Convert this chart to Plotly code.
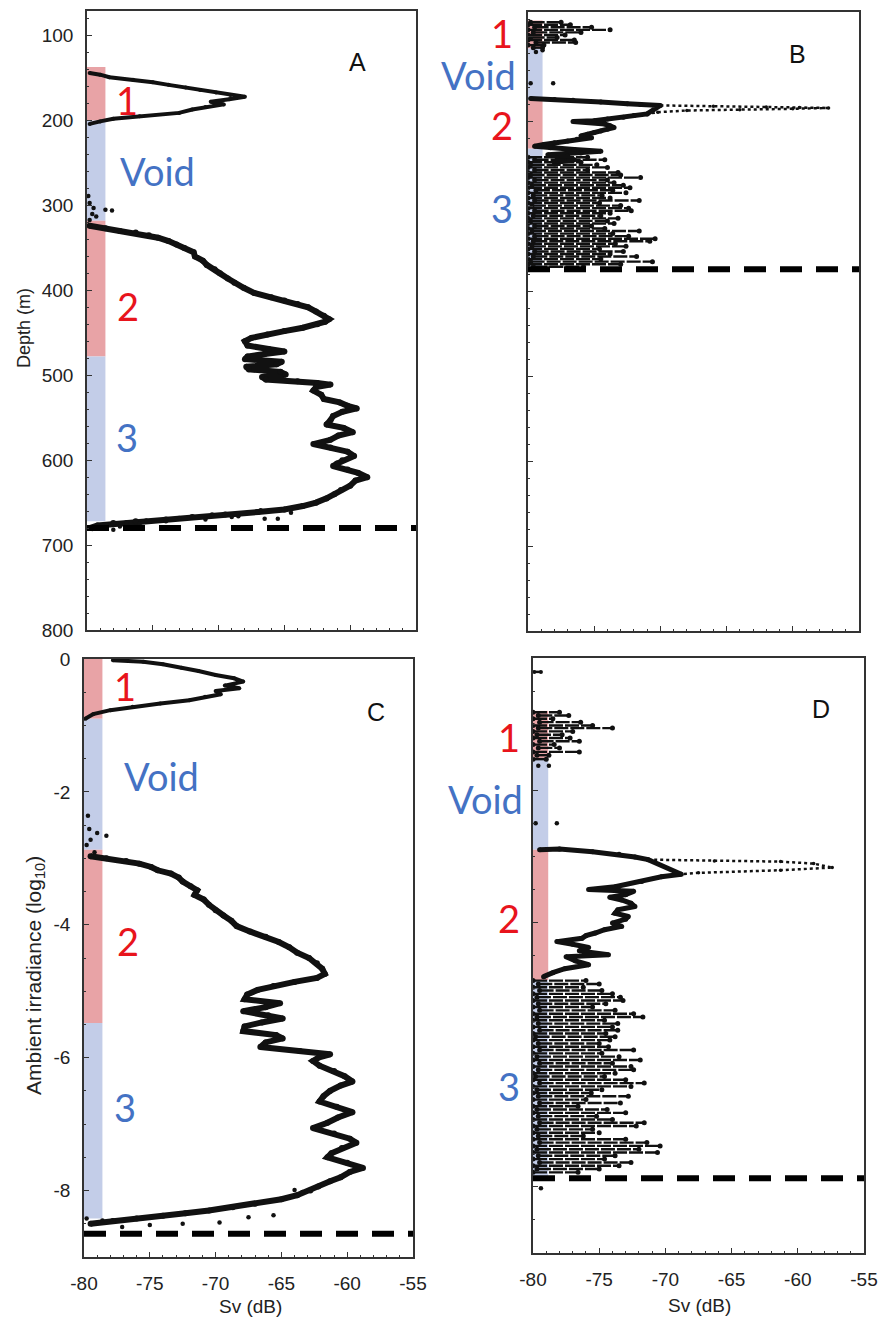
import plotly.graph_objects as go

W, H = 881, 1320

# ---------------- tick labels ----------------
SV_TICKS = [-80, -75, -70, -65, -60, -55]
SV_TICK_TEXT = ["-80", "-75", "-70", "-65", "-60", "-55"]
DEPTH_TICKS = [100, 200, 300, 400, 500, 600, 700, 800]
DEPTH_TICK_TEXT = ["100", "200", "300", "400", "500", "600", "700", "800"]
IRR_TICKS = [0, -2, -4, -6, -8]
IRR_TICK_TEXT = ["0", "-2", "-4", "-6", "-8"]

# ---------------- Panel A : Sv vs depth ----------------
A_L1_DEPTH = [144, 146, 149, 152, 155, 158, 161, 164, 167, 170, 172, 175, 178, 181, 184, 187, 191, 195, 198, 201, 204]
A_L1_SV = [-79.8, -79.0, -78.3, -76.5, -75.0, -73.8, -72.5, -71.4, -70.2, -69.1, -68.0, -69.2, -70.6, -69.6, -71.0,
           -72.0, -73.0, -76.0, -78.0, -79.0, -79.8]
A_VOID_DEPTH = [289, 297, 303, 305, 306, 310, 313, 317]
A_VOID_SV = [-79.9, -79.8, -79.5, -78.6, -78.1, -79.6, -79.3, -79.8]
A_L2_DEPTH = [324, 327, 330, 332, 335, 338, 342, 346, 350, 355, 360, 365, 370, 375, 380, 386, 391, 397, 403, 408,
              412, 416, 420, 425, 430, 434, 437, 440, 444, 448, 452, 456, 460, 465, 469, 472, 475, 478, 481, 484,
              487, 490, 493, 496, 499, 502, 505, 507, 509, 511, 514, 518, 523, 528, 532, 536, 539, 543, 548, 553,
              558, 562, 567, 571, 576, 581, 585, 590, 595, 600, 604, 607, 611, 615, 620, 624, 630, 635, 640, 645,
              650, 654, 658, 661, 664, 667, 670, 672, 674, 677, 680]
A_L2_SV = [-79.8, -78.6, -77.5, -76.3, -75.3, -74.6, -73.8, -73.2, -72.6, -71.9, -71.8, -71.2, -70.9, -70.3, -69.9,
           -69.3, -68.8, -68.1, -67.3, -66.0, -65.0, -64.0, -63.2, -62.6, -62.0, -61.6, -61.9, -62.5, -63.6, -65.0,
           -66.3, -67.5, -68.0, -67.8, -66.2, -65.0, -66.5, -67.8, -68.0, -65.2, -65.6, -67.9, -67.7, -65.3, -64.9,
           -66.7, -66.4, -64.0, -62.5, -61.5, -62.6, -62.8, -62.2, -62.0, -60.8, -60.2, -59.5, -60.6, -61.3, -61.5,
           -61.8, -60.5, -59.8, -60.9, -61.5, -62.8, -61.5, -60.2, -59.7, -60.6, -61.0, -61.3, -60.2, -59.4, -58.7,
           -59.6, -60.0, -60.7, -61.2, -61.8, -62.6, -63.6, -65.0, -67.0, -69.5, -72.0, -74.0, -76.3, -78.0, -79.2,
           -79.8]
A_BOT_DEPTH = [659, 662, 664, 666, 667, 668, 669, 669, 670, 671, 672, 673, 675, 676, 678, 679, 681, 682]
A_BOT_SV = [-66.8, -64.5, -70.5, -68.5, -69.0, -73.0, -66.5, -65.5, -71.0, -75.5, -74.0, -77.0, -76.0, -78.5, -77.5,
            -79.0, -79.6, -78.0]
A_BOTTOM = 680
A_ZONE_TOP = [137, 200, 318, 478]
A_ZONE_BOT = [200, 318, 478, 672]

# ---------------- Panel B : Sv vs depth ----------------
B_S1_DEPTH = [83, 86, 89, 92, 95, 98, 101, 104, 107, 110, 113]
B_S1_LO = [-79.8, -80.0, -79.5, -80.0, -79.6, -80.0, -79.8, -80.0, -79.4, -80.0, -79.6]
B_S1_HI = [-77.5, -76.8, -75.2, -73.8, -76.0, -77.2, -77.8, -76.5, -76.4, -78.8, -78.9]
B_VOID_DEPTH = [116, 118, 155, 155]
B_VOID_SV = [-78.9, -79.4, -79.8, -78.1]
B_L2_DEPTH = [173, 174, 175, 177, 179, 180, 181, 191, 193, 195, 197, 199, 200, 201, 203, 205, 207, 209, 211,
              213, 215, 217, 219, 221, 223, 225, 227, 229, 231, 233, 235, 237, 239, 241, 243, 245, 247, 250]
B_L2_SV = [-79.8, -78.0, -76.6, -74.5, -72.5, -71.5, -70.0, -71.0, -72.0, -72.8, -74.0, -75.0, -76.6, -75.5,
           -74.2, -73.8, -73.5, -74.0, -74.5, -75.0, -75.5, -76.0, -75.2, -76.3, -77.0, -78.0, -78.8, -79.5,
           -78.3, -76.5, -74.5, -76.0, -78.5, -77.0, -77.8, -76.5, -77.5, -78.0]
B_PEAK_DEPTH = [181, 182, 183, 183.5, 184, 185, 186, 187, 189, 191]
B_PEAK_SV = [-70.0, -66.0, -62.0, -59.5, -57.3, -60.0, -64.0, -68.0, -70.2, -71.0]
B_S3_DEPTH = [242, 245, 248, 251, 254, 257, 260, 263, 266, 269, 272, 275, 278, 281, 284, 287, 290, 293, 296,
              299, 302, 305, 308, 311, 314, 317, 320, 323, 326, 329, 332, 335, 338, 341, 344, 347, 350, 353,
              356, 359, 362, 365, 368, 371]
B_S3_LO = [-80.0, -79.5, -80.0, -79.8, -80.0, -79.5, -80.0, -79.8, -80.0, -79.5, -80.0, -79.7, -80.0, -79.4,
           -80.0, -79.6, -80.0, -79.5, -80.0, -79.7, -80.0, -79.5, -80.0, -79.6, -80.0, -79.8, -80.0, -79.5,
           -80.0, -79.7, -80.0, -79.5, -80.0, -79.6, -80.0, -79.7, -80.0, -79.5, -80.0, -79.6, -80.0, -79.8,
           -80.0, -79.6]
B_S3_HI = [-75.5, -74.2, -76.0, -74.8, -74.0, -75.5, -73.2, -73.0, -71.5, -74.0, -73.5, -72.8, -72.3, -73.6,
           -72.6, -74.4, -73.8, -71.6, -74.6, -73.0, -72.4, -72.2, -73.8, -74.5, -73.2, -74.0, -73.5, -75.2,
           -74.2, -71.6, -73.6, -72.4, -70.4, -70.8, -73.4, -72.6, -74.6, -72.8, -73.8, -71.8, -74.5, -70.6,
           -73.0, -75.8]
B_BOTTOM = 374
B_ZONE_TOP = [81, 114, 175, 232]
B_ZONE_BOT = [114, 175, 232, 373]

# ---------------- Panel C : Sv vs log10 irradiance ----------------
C_L1_IRR = [-0.02, -0.04, -0.08, -0.13, -0.18, -0.24, -0.29, -0.34, -0.40, -0.44, -0.48, -0.53, -0.57, -0.62,
            -0.67, -0.72, -0.77, -0.83, -0.90]
C_L1_SV = [-77.8, -75.5, -74.0, -72.6, -71.3, -70.0, -68.6, -67.9, -69.3, -68.2, -70.0, -69.6, -70.8, -72.0,
           -74.2, -76.3, -78.0, -79.3, -79.9]
C_VOID_IRR = [-2.36, -2.56, -2.62, -2.66, -2.72, -2.80, -2.91]
C_VOID_SV = [-79.7, -79.6, -79.0, -78.3, -79.5, -79.8, -79.2]
C_L2_IRR = [-2.97, -3.00, -3.04, -3.08, -3.13, -3.18, -3.23, -3.29, -3.35, -3.42, -3.48, -3.55, -3.62, -3.70,
            -3.78, -3.86, -3.94, -4.02, -4.10, -4.18, -4.26, -4.34, -4.42, -4.50, -4.58, -4.66, -4.74, -4.80,
            -4.86, -4.92, -4.98, -5.05, -5.12, -5.18, -5.24, -5.30, -5.36, -5.41, -5.47, -5.53, -5.60, -5.66,
            -5.71, -5.77, -5.84, -5.90, -5.95, -6.00, -6.05, -6.12, -6.20, -6.28, -6.36, -6.42, -6.50, -6.58,
            -6.66, -6.74, -6.82, -6.90, -6.98, -7.06, -7.14, -7.22, -7.28, -7.36, -7.44, -7.50, -7.58, -7.66,
            -7.72, -7.80, -7.86, -7.94, -8.00, -8.07, -8.13, -8.20, -8.25, -8.30, -8.34, -8.38, -8.42, -8.46,
            -8.50]
C_L2_SV = [-79.5, -78.3, -76.8, -75.8, -74.9, -74.4, -73.4, -72.8, -72.5, -71.9, -71.4, -71.6, -70.9, -70.5,
           -70.0, -69.4, -68.8, -68.4, -67.4, -66.2, -65.2, -64.4, -63.8, -62.9, -62.3, -61.9, -61.7, -62.3,
           -64.0, -65.6, -66.8, -67.6, -67.8, -65.1, -66.2, -67.9, -66.0, -64.9, -66.5, -67.8, -67.9, -65.4,
           -64.9, -66.2, -66.6, -63.6, -61.3, -62.2, -62.6, -62.1, -61.0, -60.2, -59.6, -60.5, -61.3, -61.8,
           -62.1, -60.8, -59.6, -60.7, -61.5, -62.6, -61.0, -59.8, -59.3, -60.4, -61.2, -61.5, -60.0, -58.8,
           -59.8, -60.5, -61.3, -62.2, -62.8, -63.8, -65.0, -67.0, -68.7, -70.5, -72.3, -74.0, -76.0, -77.8,
           -79.5]
C_BOT_IRR = [-7.99, -8.02, -8.37, -8.40, -8.48, -8.50, -8.52, -8.55, -8.42, -8.45]
C_BOT_SV = [-64.0, -63.4, -65.6, -67.5, -69.7, -72.5, -75.0, -77.1, -79.8, -78.6]
C_BOTTOM = -8.65
C_ZONE_TOP = [0.0, -0.9, -2.87, -5.48]
C_ZONE_BOT = [-0.9, -2.87, -5.48, -8.42]

# ---------------- Panel D : Sv vs log10 irradiance ----------------
D_TOP_IRR = [-0.21, -0.21]
D_TOP_SV = [-79.9, -79.4]
D_S1_IRR = [-0.82, -0.87, -0.92, -0.97, -1.02, -1.06, -1.11, -1.16, -1.21, -1.26, -1.31, -1.36, -1.42, -1.47,
            -1.53]
D_S1_LO = [-80.0, -79.6, -80.0, -79.5, -80.0, -79.6, -80.0, -79.7, -80.0, -79.5, -80.0, -79.6, -80.0, -79.7,
           -80.0]
D_S1_HI = [-78.0, -77.3, -78.5, -76.4, -75.5, -74.0, -77.0, -77.8, -77.2, -76.5, -78.4, -78.0, -76.5, -78.8,
           -79.0]
D_VOID_IRR = [-1.63, -1.63, -2.50, -2.50]
D_VOID_SV = [-79.6, -78.8, -79.8, -78.2]
D_L2_IRR = [-2.90, -2.89, -2.93, -2.97, -3.01, -3.05, -3.27, -3.31, -3.38, -3.46, -3.50, -3.53, -3.58, -3.62,
            -3.66, -3.71, -3.76, -3.81, -3.86, -3.91, -3.95, -4.01, -4.06, -4.11, -4.16, -4.20, -4.24, -4.29,
            -4.33, -4.38, -4.43, -4.49, -4.52, -4.58, -4.64, -4.70, -4.76, -4.82]
D_L2_SV = [-79.5, -78.0, -75.5, -73.5, -72.3, -71.3, -68.8, -70.3, -71.8, -73.8, -75.8, -72.4, -73.0, -74.2,
           -73.3, -72.6, -72.3, -73.6, -73.8, -72.8, -73.0, -74.0, -73.3, -74.6, -75.3, -76.0, -76.3, -78.2,
           -77.0, -75.8, -76.5, -74.3, -77.5, -76.8, -75.8, -77.6, -78.5, -79.2]
D_PEAK_IRR = [-3.05, -3.07, -3.08, -3.11, -3.17, -3.21, -3.25, -3.27]
D_PEAK_SV = [-71.3, -66.3, -61.3, -58.8, -57.4, -61.3, -67.5, -68.8]
D_S3_IRR = [-4.88, -4.93, -4.98, -5.03, -5.08, -5.13, -5.18, -5.23, -5.28, -5.33, -5.38, -5.43, -5.48, -5.53,
            -5.58, -5.63, -5.68, -5.73, -5.78, -5.83, -5.88, -5.93, -5.98, -6.03, -6.08, -6.13, -6.18, -6.23,
            -6.28, -6.33, -6.38, -6.43, -6.48, -6.53, -6.58, -6.63, -6.68, -6.73, -6.78, -6.83, -6.88, -6.93,
            -6.98, -7.03, -7.08, -7.13, -7.18, -7.23, -7.28, -7.33, -7.38, -7.43, -7.48, -7.53, -7.58, -7.63,
            -7.68, -7.73, -7.78]
D_S3_LO = [-80.0, -79.6, -80.0, -79.5, -80.0, -79.7, -80.0, -79.6, -80.0, -79.5, -80.0, -79.7, -80.0, -79.6,
           -80.0, -79.5, -80.0, -79.8, -80.0, -79.6, -80.0, -79.5, -80.0, -79.7, -80.0, -79.5, -80.0, -79.6,
           -80.0, -79.8, -80.0, -79.5, -80.0, -79.7, -80.0, -79.6, -80.0, -79.5, -80.0, -79.7, -80.0, -79.6,
           -80.0, -79.5, -80.0, -79.7, -80.0, -79.6, -80.0, -79.5, -80.0, -79.7, -80.0, -79.6, -80.0, -79.5,
           -80.0, -79.7, -80.0]
D_S3_HI = [-76.0, -75.0, -76.2, -74.8, -74.0, -73.4, -73.2, -74.5, -75.5, -73.8, -72.4, -71.7, -74.6, -73.6,
           -74.0, -73.6, -74.5, -73.8, -74.2, -75.0, -74.3, -72.4, -74.8, -73.5, -71.9, -74.0, -72.6, -72.4,
           -73.8, -74.6, -73.0, -71.6, -72.6, -74.8, -75.6, -72.8, -76.0, -73.4, -76.6, -74.4, -73.0, -75.2,
           -74.0, -71.6, -72.2, -75.5, -75.0, -76.2, -73.0, -71.4, -70.4, -72.0, -70.6, -73.8, -74.6, -72.6,
           -73.5, -75.0, -76.6]
D_BOT_IRR = [-8.02]
D_BOT_SV = [-79.4]
D_BOTTOM = -7.87
D_ZONE_TOP = [-0.8, -1.54, -2.9, -4.87]
D_ZONE_BOT = [-1.54, -2.9, -4.87, -7.87]

ZONE_NAMES = ["1", "Void", "2", "3"]

# ---------------- styling ----------------
PINK = "#E8A3A6"
LBLUE = "#C3CDE8"
RED = "#E8141C"
BLUE = "#4472C4"
ZONE_FILL = [PINK, LBLUE, PINK, LBLUE]
ZONE_TEXT = [RED, BLUE, RED, BLUE]
INK = "#111111"
AX = "#333333"
TICKFONT = dict(family="Liberation Sans, Arial, sans-serif", size=19, color="#222222")


def px2x(px):
    return px / W


def px2y(py):
    return 1 - py / H


panels = {
    "A": dict(xd=(87, 416), yd=(11, 630), yr=[800, 71], bar=-78.6),
    "B": dict(xd=(528, 859), yd=(12, 631), yr=[800, 71], bar=-78.9),
    "C": dict(xd=(84, 413), yd=(659, 1257), yr=[-9, 0], bar=-78.6),
    "D": dict(xd=(533, 864), yd=(658, 1253), yr=[-9, 0], bar=-78.85),
}
axid = {"A": ("x", "y"), "B": ("x2", "y2"), "C": ("x3", "y3"), "D": ("x4", "y4")}

fig = go.Figure()


def path(key, ys, xs, width=4.5, msize=4, dash="solid", mode="lines+markers"):
    xa, ya = axid[key]
    fig.add_trace(go.Scatter(x=xs, y=ys, mode=mode, xaxis=xa, yaxis=ya,
                             line=dict(color=INK, width=width, dash=dash),
                             marker=dict(color=INK, size=msize), showlegend=False, hoverinfo="skip"))


def points(key, ys, xs, msize=4.5):
    xa, ya = axid[key]
    fig.add_trace(go.Scatter(x=xs, y=ys, mode="markers", xaxis=xa, yaxis=ya,
                             marker=dict(color=INK, size=msize), showlegend=False, hoverinfo="skip"))


def streaks(key, ds, los, his, width=2.4):
    xs, ys = [], []
    for d, lo, hi in zip(ds, los, his):
        xs += [lo, hi, None]
        ys += [d, d, None]
    xa, ya = axid[key]
    fig.add_trace(go.Scatter(x=xs, y=ys, mode="lines+markers", xaxis=xa, yaxis=ya,
                             line=dict(color=INK, width=width, dash="14px,2px"),
                             marker=dict(color=INK, size=5), showlegend=False, hoverinfo="skip"))


def bottom_line(key, level):
    xa, ya = axid[key]
    fig.add_trace(go.Scatter(x=[SV_TICKS[0], SV_TICKS[-1]], y=[level, level], mode="lines", xaxis=xa, yaxis=ya,
                             line=dict(color="#000000", width=6, dash="22px,14px"),
                             showlegend=False, hoverinfo="skip"))


def zones(key, tops, bots):
    xa, ya = axid[key]
    for t, b, c in zip(tops, bots, ZONE_FILL):
        fig.add_shape(type="rect", xref=xa, yref=ya, x0=SV_TICKS[0], x1=panels[key]["bar"], y0=t, y1=b,
                      fillcolor=c, line=dict(width=0), layer="below")


# zones
zones("A", A_ZONE_TOP, A_ZONE_BOT)
zones("B", B_ZONE_TOP, B_ZONE_BOT)
zones("C", C_ZONE_TOP, C_ZONE_BOT)
zones("D", D_ZONE_TOP, D_ZONE_BOT)

# Panel A
path("A", A_L1_DEPTH, A_L1_SV, width=4)
points("A", A_VOID_DEPTH, A_VOID_SV)
path("A", A_L2_DEPTH, A_L2_SV, width=6, msize=6)
points("A", A_BOT_DEPTH, A_BOT_SV)
bottom_line("A", A_BOTTOM)

# Panel B
streaks("B", B_S1_DEPTH, B_S1_LO, B_S1_HI)
points("B", B_VOID_DEPTH, B_VOID_SV)
path("B", B_L2_DEPTH, B_L2_SV, width=5, msize=5)
path("B", B_PEAK_DEPTH, B_PEAK_SV, width=2.5, msize=3.5, dash="dot")
streaks("B", B_S3_DEPTH, B_S3_LO, B_S3_HI)
bottom_line("B", B_BOTTOM)

# Panel C
path("C", C_L1_IRR, C_L1_SV, width=4)
points("C", C_VOID_IRR, C_VOID_SV)
path("C", C_L2_IRR, C_L2_SV, width=6, msize=6)
points("C", C_BOT_IRR, C_BOT_SV)
bottom_line("C", C_BOTTOM)

# Panel D
path("D", D_TOP_IRR, D_TOP_SV, width=2.5)
streaks("D", D_S1_IRR, D_S1_LO, D_S1_HI)
points("D", D_VOID_IRR, D_VOID_SV)
path("D", D_L2_IRR, D_L2_SV, width=5, msize=5)
path("D", D_PEAK_IRR, D_PEAK_SV, width=2.5, msize=3.5, dash="dot")
streaks("D", D_S3_IRR, D_S3_LO, D_S3_HI)
points("D", D_BOT_IRR, D_BOT_SV)
bottom_line("D", D_BOTTOM)

# axes
layout = dict(width=W, height=H, margin=dict(l=0, r=0, t=0, b=0, autoexpand=False), paper_bgcolor="white",
              plot_bgcolor="white", showlegend=False, template="none")

for i, key in enumerate(["A", "B", "C", "D"]):
    p = panels[key]
    sfx = "" if i == 0 else str(i + 1)
    show_x = key in ("C", "D")
    xaxis = dict(domain=[px2x(p["xd"][0]), px2x(p["xd"][1])], range=[-80, -55], automargin=False,
                 anchor="y" + sfx, showgrid=False, zeroline=False,
                 showline=True, linecolor=AX, linewidth=1.5, mirror=True,
                 ticks="inside", ticklen=5, tickwidth=1.2, tickcolor=AX,
                 tickmode="array", tickvals=SV_TICKS, ticktext=SV_TICK_TEXT,
                 showticklabels=show_x, tickfont=TICKFONT, ticklabelstandoff=8,
                 minor=dict(ticks="inside", ticklen=2.5, tickwidth=1, tickcolor=AX, dtick=1, tick0=-80))
    if key in ("A", "B"):
        tv, tt, md = DEPTH_TICKS, DEPTH_TICK_TEXT, 20
    else:
        tv, tt, md = IRR_TICKS, IRR_TICK_TEXT, 0.5
    yaxis = dict(domain=[px2y(p["yd"][1]), px2y(p["yd"][0])], range=p["yr"], automargin=False,
                 anchor="x" + sfx, showgrid=False, zeroline=False,
                 showline=True, linecolor=AX, linewidth=1.5, mirror=True,
                 ticks="inside", ticklen=5, tickwidth=1.2, tickcolor=AX,
                 tickmode="array", tickvals=tv, ticktext=tt,
                 showticklabels=key in ("A", "C"), tickfont=TICKFONT, ticklabelstandoff=8,
                 minor=dict(ticks="inside", ticklen=2.5, tickwidth=1, tickcolor=AX, dtick=md, tick0=0))
    layout["xaxis" + sfx] = xaxis
    layout["yaxis" + sfx] = yaxis

fig.update_layout(**layout)

ann = []


def text(x, y, s, size, color, family="Liberation Sans, Arial, sans-serif", angle=0):
    ann.append(dict(x=px2x(x), y=px2y(y), xref="paper", yref="paper", text=s, showarrow=False,
                    xanchor="center", yanchor="middle", textangle=angle,
                    font=dict(size=size, color=color, family=family)))


# axis titles
text(24, 328, "Depth (m)", 18, "#222222", angle=-90)
text(35, 976, "Ambient irradiance (log<sub>10</sub>)", 21, "#222222", angle=-90)
text(250, 1306, "Sv (dB)", 19, "#222222")
text(699, 1305, "Sv (dB)", 19, "#222222")

# panel letters
for (x, y, s) in [(357, 62, "A"), (797, 54, "B"), (376, 712, "C"), (821, 709, "D")]:
    text(x, y, s, 25, "#111111")

# zone labels
ZONE_POS = {
    "A": [(127, 100), (157, 171), (128, 306), (127, 437)],
    "B": [(502, 33), (479, 75), (502, 125), (502, 208)],
    "C": [(125, 686), (161, 776), (128, 941), (125, 1107)],
    "D": [(509, 737), (485, 799), (509, 918), (509, 1086)],
}
for key, pos in ZONE_POS.items():
    for (x, y), name, col in zip(pos, ZONE_NAMES, ZONE_TEXT):
        text(x, y, name, 38, col, family="Lato, Open Sans, sans-serif")

fig.update_layout(annotations=ann)
fig.write_html("out.html", config={"displayModeBar": False},
               post_script="document.body.style.margin='0';document.body.style.padding='0';"
                           "document.documentElement.style.overflow='hidden';")
